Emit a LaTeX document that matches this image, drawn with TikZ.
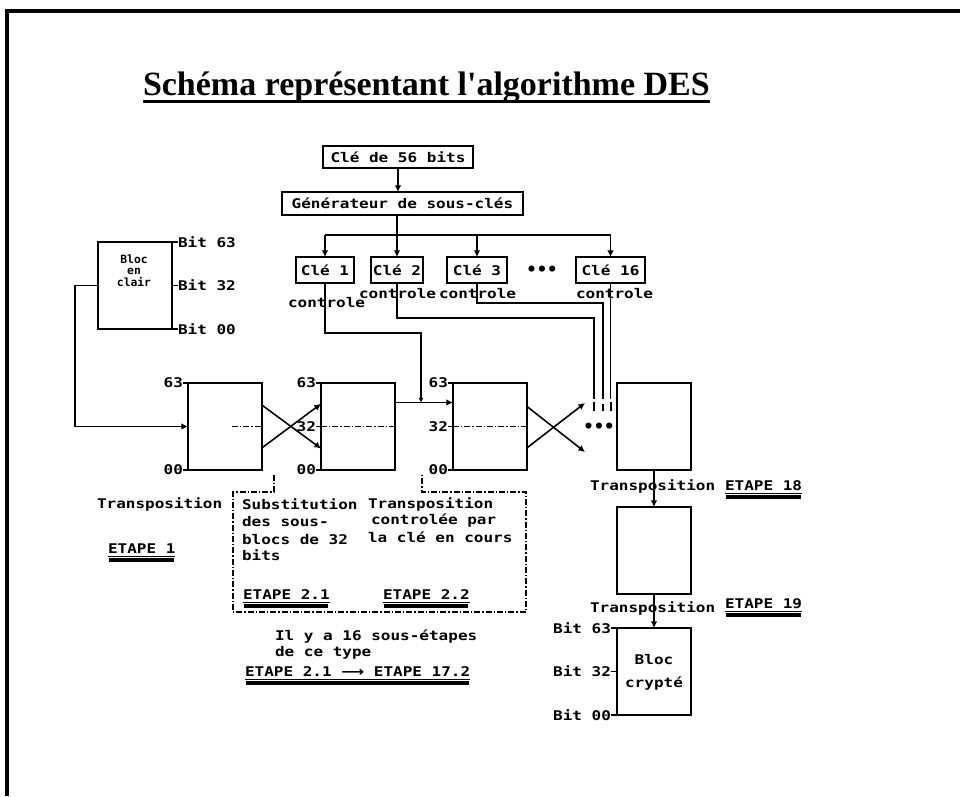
\documentclass[tikz,border=0pt]{standalone}
\usepackage{fontspec}
\usetikzlibrary{arrows.meta}
\newfontfamily\pixf{DejaVu Sans Mono}
\newfontfamily\titf{Liberation Serif}
\newfontfamily\djs{DejaVu Sans}
\newcommand\pix[1]{\scalebox{1.2}[1]{#1}}
\newcommand\etul[2][2.4pt]{%
  \draw[line width=0.7pt] ([yshift=-2pt]#2.base west) -- ([yshift=-2pt]#2.base east);
  \draw[line width=#1] ([yshift=-4.6pt,xshift=1pt]#2.base west) -- ([yshift=-4.6pt,xshift=-1pt]#2.base east);}
\begin{document}
\begin{tikzpicture}[x=0.75pt,y=-0.75pt,line width=1.4pt,
  every node/.style={inner sep=0pt,outer sep=0pt},
  txt/.style={font=\pixf\bfseries\fontsize{10pt}{12pt}\selectfont},
  smalltxt/.style={font=\pixf\bfseries\fontsize{8.5pt}{9pt}\selectfont},
  dotstxt/.style={font=\pixf\bfseries\fontsize{13pt}{14pt}\selectfont},
  bigbox/.style={draw,minimum width=55.5pt,minimum height=65.25pt,anchor=north west},
  keybox/.style={draw,anchor=north west,txt},
  arr/.style={-{Latex[length=5pt,width=5pt]}},
  sarr/.style={-{Latex[length=3.5pt,width=4pt]}},
  dd/.style={line width=1pt,dash pattern=on 4.5pt off 1.5pt on 1pt off 1.5pt}]
\useasboundingbox (0,0) rectangle (960,796);
\fill[white] (0,0) rectangle (960,796);
% frame
\draw[line width=3pt] (7,796) -- (7,11) -- (960,11);
% title
\node[anchor=base west] (title) at (143,95) {\resizebox{425pt}{!}{\titf\bfseries Schéma représentant l'algorithme DES}};
\draw[line width=2.6pt] (143,101.5) -- (710,101.5);

% key boxes
\node[keybox,minimum width=112.5pt,minimum height=16.5pt] (k56) at (323,146) {\pix{Clé de 56 bits}};
\node[keybox,minimum width=180.75pt,minimum height=17.25pt] (gen) at (282,192) {\pix{Générateur de sous-clés}};
\node[keybox,minimum width=43.5pt,minimum height=19.5pt] (k1) at (296,257) {\pix{Clé 1}};
\node[keybox,minimum width=39pt,minimum height=19.5pt] (k2) at (371,257) {\pix{Clé 2}};
\node[keybox,minimum width=45pt,minimum height=19.5pt] (k3) at (447,257) {\pix{Clé 3}};
\node[keybox,minimum width=51.75pt,minimum height=19.5pt] (k16) at (576,257) {\pix{Clé 16}};
\node[dotstxt] (kdots) at (542,271) {•••};
\draw[arr] (k56.south) -- (k56.south |- gen.north);
\coordinate (bus) at (0,235);
\draw (k1.north |- bus) -- (k16.north |- bus);
\draw[arr] (gen.south -| k2.north) -- (k2.north);
\draw[arr] (k1.north |- bus) -- (k1.north);
\draw[arr] (k3.north |- bus) -- (k3.north);
\draw[arr] (k16.north |- bus) -- (k16.north);

% controle labels
\node[txt,anchor=west] (ct1) at (288,303) {\pix{controle}};
\node[txt,anchor=west] (ct2) at (359,294) {\pix{controle}};
\node[txt,anchor=west] (ct3) at (439,294) {\pix{controle}};
\node[txt,anchor=west] (ct16) at (576,294) {\pix{controle}};

% main row boxes
\node[bigbox] (bloc) at (98,242) {};
\node[bigbox] (A) at (188,383) {};
\node[bigbox] (B) at (321,383) {};
\node[bigbox] (C) at (453,383) {};
\node[bigbox] (D) at (617,383) {};
\node[bigbox] (E) at (617,507) {};
\node[bigbox] (F) at (617,628) {};

% bloc en clair
\node[smalltxt] (bl1) at (134,259) {Bloc};
\node[smalltxt] (bl2) at (134,271) {en};
\node[smalltxt] (bl3) at (134,282) {clair};
\node[txt,anchor=west] (bl63) at (178,242) {\pix{Bit 63}};
\node[txt,anchor=west] (bl32) at (178,285.5) {\pix{Bit 32}};
\node[txt,anchor=west] (bl00) at (178,329) {\pix{Bit 00}};
\draw (bloc.north east) -- (bl63.west);
\draw (bloc.east) -- (bl32.west);
\draw (bloc.south east) -- (bl00.west);
\coordinate (inL) at (75,285.5);
\draw[arr] (bloc.west) -- (inL) |- (A.west);

% labels of A, B, C
\node[txt,anchor=east] (a63) at (183,383) {\pix{63}};
\node[txt,anchor=east] (a00) at (183,470) {\pix{00}};
\draw (a63.east) -- (A.north west);
\draw (a00.east) -- (A.south west);
\node[txt,anchor=east] (b63) at (316,383) {\pix{63}};
\node[txt,anchor=east] (b32) at (316,426.5) {\pix{32}};
\node[txt,anchor=east] (b00) at (316,470) {\pix{00}};
\draw (b63.east) -- (B.north west);
\draw (b32.east) -- (B.west);
\draw (b00.east) -- (B.south west);
\node[txt,anchor=east] (c63) at (448,383) {\pix{63}};
\node[txt,anchor=east] (c32) at (448,426.5) {\pix{32}};
\node[txt,anchor=east] (c00) at (448,470) {\pix{00}};
\draw (c63.east) -- (C.north west);
\draw (c32.east) -- (C.west);
\draw (c00.east) -- (C.south west);

% dash-dot middles
\coordinate (Ad) at (232,426.5);
\draw[dd] (Ad) -- (A.east);
\draw[dd] (B.west) -- (B.east);
\draw[dd] (C.west) -- (C.east);

% crossings
\draw[arr,line width=1.2pt] ([yshift=16pt]A.east) -- ([yshift=-16.5pt]B.west);
\draw[arr,line width=1.2pt] ([yshift=-16pt]A.east) -- ([yshift=17pt]B.west);
\coordinate (x1) at (585,452);
\coordinate (x2) at (585,403);
\draw[arr,line width=1.2pt] ([yshift=15pt]C.east) -- (x1);
\draw[arr,line width=1.2pt] ([yshift=-16pt]C.east) -- (x2);
\draw[arr] ([yshift=18pt]B.east) -- ([yshift=18pt]C.west);
\node[dotstxt] (ddots) at (599,428) {•••};

% control lines
\coordinate (c1) at (0,333);
\coordinate (t1) at (421,402.5);
\draw[sarr] (k1.south) -- (k1.south |- c1) -| (t1);
\coordinate (c2) at (0,318);
\coordinate (t2) at (594,399);
\coordinate (t2b) at (594,402);
\coordinate (t2c) at (594,411);
\draw (k2.south) -- (k2.south |- c2) -| (t2);
\draw (t2b) -- (t2c);
\coordinate (c3) at (0,303);
\coordinate (t3) at (603,399);
\coordinate (t3b) at (603,404);
\coordinate (t3c) at (603,411);
\draw (k3.south) -- (k3.south |- c3) -| (t3);
\draw (t3b) -- (t3c);
\coordinate (t16) at (611,399);
\coordinate (t16b) at (611,402);
\coordinate (t16c) at (611,411);
\draw (k16.south) -- (k16.south |- t16);
\draw (t16b) -- (t16c);

% left texts
\node[txt,anchor=west] (trA) at (97,504) {\pix{Transposition}};
\node[txt,anchor=west] (e1) at (108,549) {\pix{ETAPE 1}};
\etul{e1}

% dashed box
\draw[dd] (274,475) -- (274,492) -- (233,492) -- (233,612) -- (526,612) -- (526,492) -- (422,492) -- (422,473);
\node[txt,anchor=west] (s1) at (242,504) {\pix{Substitution}};
\node[txt,anchor=west] (s2) at (242,521.5) {\pix{des sous-}};
\node[txt,anchor=west] (s3) at (242,540) {\pix{blocs de 32}};
\node[txt,anchor=west] (s4) at (242,555.5) {\pix{bits}};
\node[txt,anchor=west] (p1) at (368,504) {\pix{Transposition}};
\node[txt,anchor=west] (p2) at (371,520.5) {\pix{controlée par}};
\node[txt,anchor=west] (p3) at (368,537) {\pix{la clé en cours}};
\node[txt,anchor=west] (e21) at (243,595) {\pix{ETAPE 2.1}};
\node[txt,anchor=west] (e22) at (383,595) {\pix{ETAPE 2.2}};
\etul{e21}
\etul{e22}

% bottom texts
\node[txt,anchor=west] (n1) at (275,637) {\pix{Il y a 16 sous-étapes}};
\node[txt,anchor=west] (n2) at (275,653) {\pix{de ce type}};
\node[txt,anchor=west] (n3) at (245,672) {\pix{ETAPE 2.1 {\djs ⟶} ETAPE 17.2}};
\etul[3.2pt]{n3}

% right column
\draw[arr] (D.south) -- (E.north);
\draw[arr] (E.south) -- (F.north);
\node[txt,anchor=west] (tr18) at (590,486) {\pix{Transposition}};
\node[txt,anchor=west] (e18) at (725,486) {\pix{ETAPE 18}};
\etul{e18}
\node[txt,anchor=west] (tr19) at (590,608) {\pix{Transposition}};
\node[txt,anchor=west] (e19) at (725,604) {\pix{ETAPE 19}};
\etul{e19}
\node[txt] (fb) at (654,660) {\pix{Bloc}};
\node[txt] (fc) at (654,684) {\pix{crypté}};
\node[txt,anchor=east] (f63) at (611,628) {\pix{Bit 63}};
\node[txt,anchor=east] (f32) at (611,671.5) {\pix{Bit 32}};
\node[txt,anchor=east] (f00) at (611,715) {\pix{Bit 00}};
\draw (f63.east) -- (F.north west);
\draw (f32.east) -- (F.west);
\draw (f00.east) -- (F.south west);
\end{tikzpicture}
\end{document}
